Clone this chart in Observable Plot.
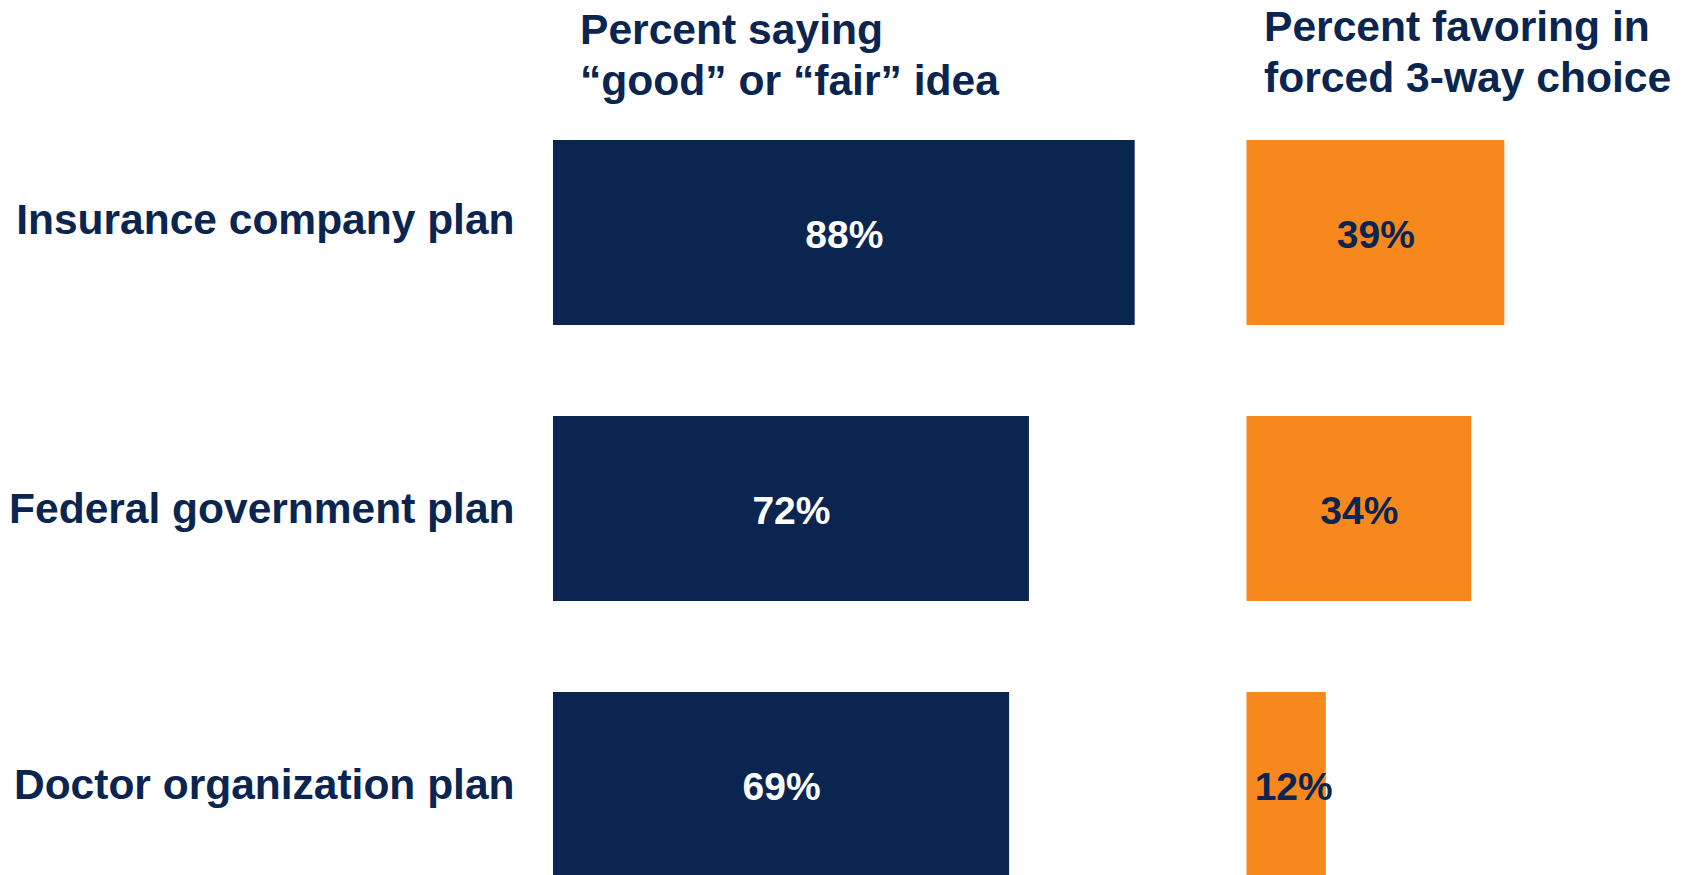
<!DOCTYPE html>
<html>
<head>
<meta charset="utf-8">
<script src="https://cdn.jsdelivr.net/npm/d3@7"></script>
<script src="https://cdn.jsdelivr.net/npm/@observablehq/plot@0.6"></script>
<style>
  html, body { margin: 0; padding: 0; background: #ffffff; }
  #wrap { position: relative; width: 1686px; height: 875px; overflow: hidden; background: #fff;
          font-family: "Liberation Sans", Arial, Helvetica, sans-serif; color: #0a254f; }
  #header { position: relative; width: 1686px; height: 120px; }
  .ptitle { position: absolute; font-size: 42.6px; font-weight: bold; line-height: 51px; white-space: nowrap; }
  #row { display: flex; flex-direction: row; width: 1686px; }
  #row svg { flex: 0 0 auto; max-width: none; }
</style>
</head>
<body>
<div id="wrap">
  <div id="header"></div>
  <div id="row"></div>
</div>
<script>
// ---- data ----
const plans = ["Insurance company plan", "Federal government plan", "Doctor organization plan"];
const goodOrFair = [88, 72, 69];      // Percent saying "good" or "fair" idea
const favoring = [39, 34, 12];        // Percent favoring in forced 3-way choice
const panelTitles = [
  ["Percent saying", "\u201cgood\u201d or \u201cfair\u201d idea"],
  ["Percent favoring in", "forced 3-way choice"]
];

// ---- style / layout ----
const NAVY = "#0a254f";
const ORANGE = "#f6881e";
const FONT = "'Liberation Sans', Arial, Helvetica, sans-serif";
const pxPerPct = 6.61;
const svgH = 755;

const rowsA = plans.map((p, i) => ({plan: p, value: goodOrFair[i]}));
const rowsB = plans.map((p, i) => ({plan: p, value: favoring[i]}));

// titles
const header = document.getElementById("header");
const titlePos = [{left: 580, top: 4}, {left: 1264, top: 1}];
panelTitles.forEach((lines, i) => {
  const d = document.createElement("div");
  d.className = "ptitle";
  d.style.left = titlePos[i].left + "px";
  d.style.top = titlePos[i].top + "px";
  d.innerHTML = lines.join("<br>");
  header.appendChild(d);
});

const yOpts = {domain: plans, paddingInner: 0.33, paddingOuter: 0, align: 0};
const labelFont = {tickSize: 0, tickPadding: 39, fontSize: 42.5, fontWeight: "bold", fill: NAVY, label: null};

// Panel A: labels + navy bars
const wA = 1246, mlA = 553;
const plotA = Plot.plot({
  width: wA, height: svgH,
  marginLeft: mlA, marginRight: 0, marginTop: 20, marginBottom: -3,
  style: {fontFamily: FONT, color: NAVY, background: "transparent"},
  x: {domain: [0, (wA - mlA) / pxPerPct], axis: null},
  y: {...yOpts, axis: null},
  marks: [
    Plot.barX(rowsA, {x1: 0, x2: "value", y: "plan", fill: NAVY}),
    Plot.text(rowsA, {x: d => d.value / 2, y: "plan", text: d => d.value + "%",
      fill: "white", fontSize: 39, fontWeight: "bold", dy: 3}),
    Plot.axisY({...labelFont, ticks: plans.slice(0, 1), dy: -13}),
    Plot.axisY({...labelFont, ticks: plans.slice(1)})
  ]
});

// Panel B: orange bars
const wB = 1686 - wA;
const plotB = Plot.plot({
  width: wB, height: svgH,
  marginLeft: 0.5, marginRight: 0, marginTop: 20, marginBottom: -3,
  style: {fontFamily: FONT, color: NAVY, background: "transparent"},
  x: {domain: [0, (wB - 0.5) / pxPerPct], axis: null},
  y: {...yOpts, axis: null},
  marks: [
    Plot.barX(rowsB, {x1: 0, x2: "value", y: "plan", fill: ORANGE}),
    Plot.text(rowsB.filter(d => d.value >= 20), {x: d => d.value / 2, y: "plan", text: d => d.value + "%",
      fill: NAVY, fontSize: 39, fontWeight: "bold", dy: 3}),
    Plot.text(rowsB.filter(d => d.value < 20), {x: d => d.value / 2, y: "plan", text: d => d.value + "%",
      fill: NAVY, fontSize: 39, fontWeight: "bold", dy: 3, dx: 7})
  ]
});

const row = document.getElementById("row");
row.appendChild(plotA);
row.appendChild(plotB);
</script>
</body>
</html>
